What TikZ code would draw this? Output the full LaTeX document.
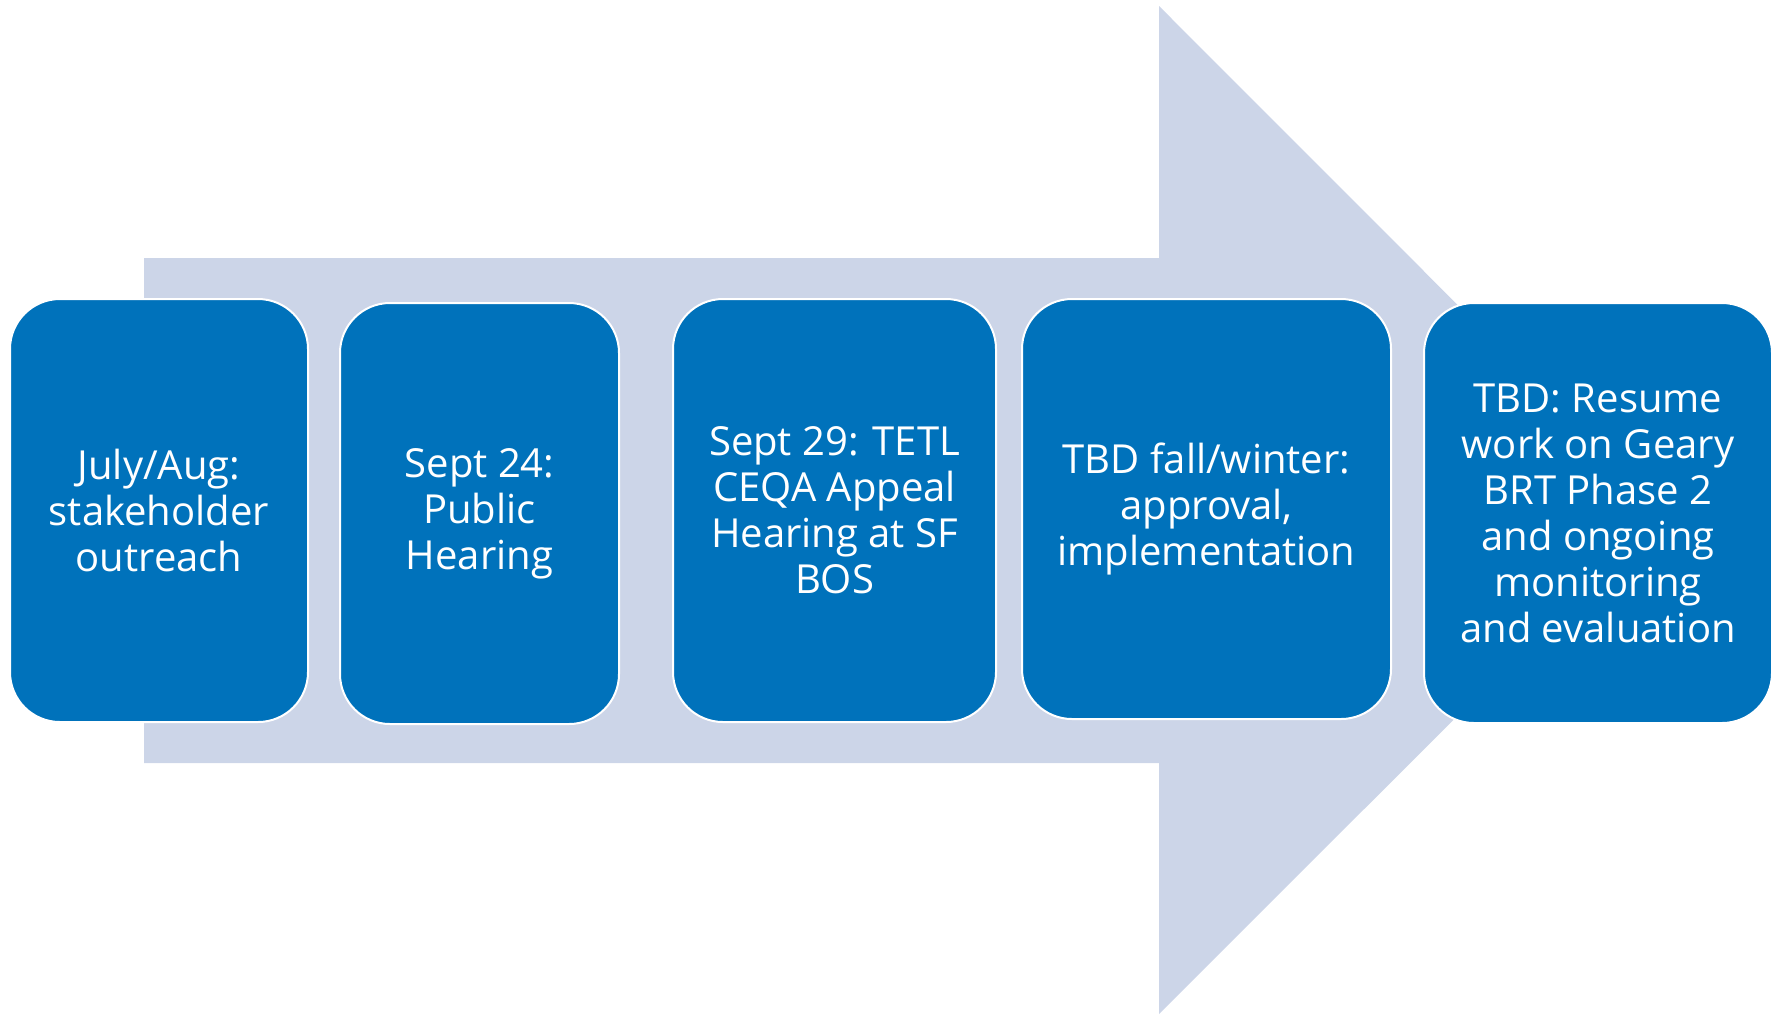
\documentclass[tikz,border=0pt]{standalone}
\usepackage{fontspec}
\setmainfont{Open Sans}
\definecolor{arrowfill}{RGB}{204,213,232}
\definecolor{boxfill}{RGB}{0,114,187}
\tikzset{
  stagebox/.style={draw=white, line width=1pt, fill=boxfill, rounded corners=25pt,
    text=white, align=center, inner sep=0pt,
    font=\fontsize{20}{23}\selectfont}
}

\begin{document}
\begin{tikzpicture}[x=0.5pt,y=0.5pt,yscale=-1,xscale=1]
\useasboundingbox (0,0) rectangle (1775,1014);

%Shape: Big Arrow
\fill [arrowfill] (144,258) -- (1159,258) -- (1159,6) -- (1663,510.5) -- (1159,1014) -- (1159,763) -- (144,763) -- cycle ;

%Stage boxes
\node [stagebox, minimum width=149pt, minimum height=211.5pt] (july) at (159,510.5) {July/Aug:\\stakeholder\\outreach};
\node [stagebox, minimum width=139.5pt, minimum height=210.5pt] (sept24) at (479.5,513.5) {Sept 24:\\Public\\Hearing};
\node [stagebox, minimum width=161.5pt, minimum height=211.5pt] (sept29) at (834.5,510.5) {Sept 29: TETL\\CEQA Appeal\\Hearing at SF\\BOS};
\node [stagebox, minimum width=184.5pt, minimum height=210pt] (fall) at (1206.5,509) {TBD fall/winter:\\approval,\\implementation};
\node [stagebox, minimum width=174pt, minimum height=210pt] (resume) at (1598,513) {TBD: Resume\\work on Geary\\BRT Phase 2\\and ongoing\\monitoring\\and evaluation};

\end{tikzpicture}
\end{document}
